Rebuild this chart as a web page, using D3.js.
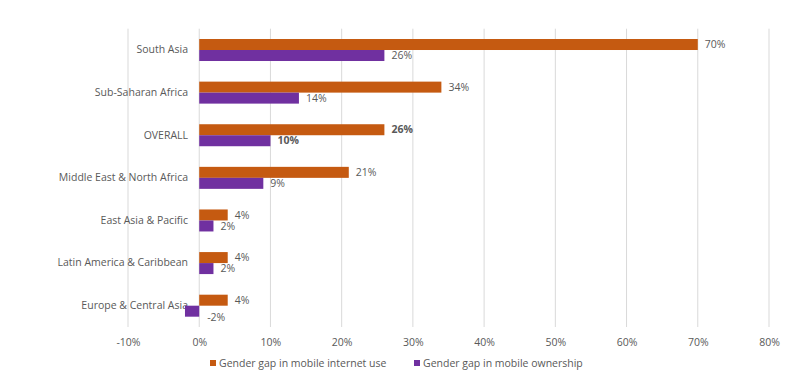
<!DOCTYPE html>
<html><head><meta charset="utf-8">
<script src="https://cdn.jsdelivr.net/npm/d3@7"></script>
<style>
body{margin:0;background:#fff;}
svg text{font-family:"Open Sans",sans-serif;fill:#595959;}
</style></head>
<body><svg id="c" width="787" height="383"></svg>
<script>
const categories = ["South Asia","Sub-Saharan Africa","OVERALL","Middle East & North Africa","East Asia & Pacific","Latin America & Caribbean","Europe & Central Asia"];
const internetGap = [70,34,26,21,4,4,4];
const ownershipGap = [26,14,10,9,2,2,-2];
const seriesNames = ["Gender gap in mobile internet use","Gender gap in mobile ownership"];
const colors = ["#C55A11","#7030A0"];
const xTicks = [-10,0,10,20,30,40,50,60,70,80];
const boldCategory = "OVERALL";

const svg = d3.select("#c");
const x = d3.scaleLinear().domain([-10,80]).range([128,769]);
const y = d3.scaleBand().domain(categories).range([28.7,327]).paddingInner(0).paddingOuter(0);
const barH = 11;
const fs = "10.5px";

svg.append("g").selectAll("line").data(xTicks).join("line")
  .attr("x1",d=>x(d)).attr("x2",d=>x(d)).attr("y1",28.7).attr("y2",327)
  .attr("stroke","#D9D9D9").attr("stroke-width",1);

const xAxis = d3.axisBottom(x).tickValues(xTicks).tickFormat(d=>d+"%").tickSize(0).tickPadding(0);
const gx = svg.append("g").attr("transform","translate(0,338)").call(xAxis);
gx.select(".domain").remove();
gx.selectAll("text").style("font-size",fs).attr("dy","0.32em").attr("y",5);

const yAxis = d3.axisLeft(y).tickSize(0).tickPadding(0);
const gy = svg.append("g").attr("transform","translate(188,0)").call(yAxis);
gy.select(".domain").remove();
gy.selectAll("text").style("font-size",fs).attr("dy","0.32em");

const series = [internetGap, ownershipGap];
series.forEach((vals,si)=>{
  const g = svg.append("g");
  g.selectAll("rect").data(categories).join("rect")
    .attr("x",(c,i)=>x(Math.min(0,vals[i])))
    .attr("width",(c,i)=>Math.abs(x(vals[i])-x(0)))
    .attr("y",c=>y(c)+y.bandwidth()/2-barH+si*barH)
    .attr("height",barH)
    .attr("fill",colors[si]);
  g.selectAll("text").data(categories).join("text")
    .attr("x",(c,i)=>x(Math.max(0,vals[i]))+(vals[i]<0?8:7))
    .attr("y",(c,i)=>y(c)+y.bandwidth()/2-barH/2+si*barH+(vals[i]<0?6:0))
    .attr("dy","0.35em")
    .style("font-size",fs)
    .style("font-weight",c=>c===boldCategory?"bold":"normal")
    .text((c,i)=>vals[i]+"%");
});

const leg = svg.append("g");
const legX = [210,414];
seriesNames.forEach((n,i)=>{
  leg.append("rect").attr("x",legX[i]).attr("y",360).attr("width",6).attr("height",6).attr("fill",colors[i]);
  leg.append("text").attr("x",legX[i]+9).attr("y",363).attr("dy","0.35em").style("font-size",fs).text(n);
});
</script></body></html>
